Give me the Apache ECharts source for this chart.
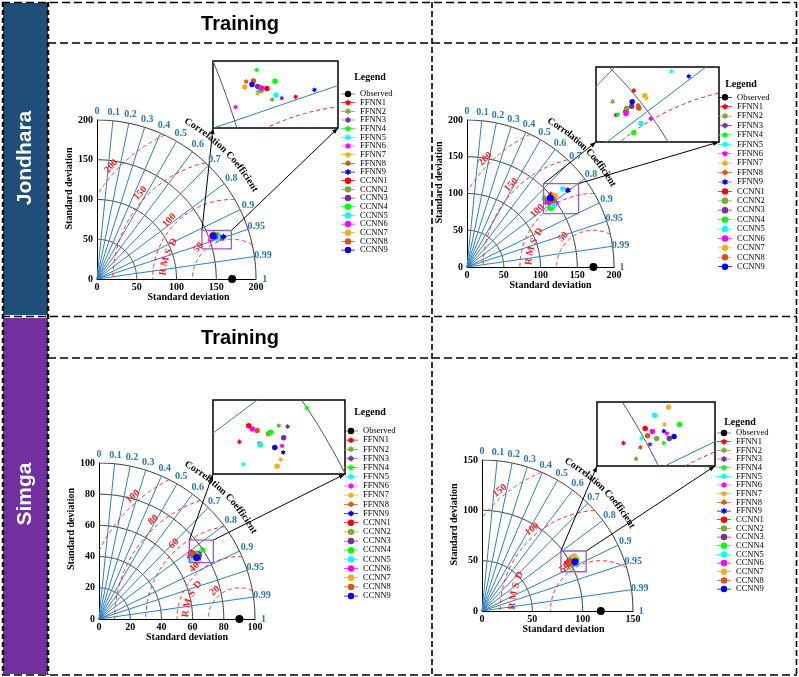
<!DOCTYPE html>
<html>
<head>
<meta charset="utf-8">
<title>Taylor diagrams – Jondhara and Simga</title>
<script src="https://cdn.jsdelivr.net/npm/echarts@6/dist/echarts.min.js"></script>
<style>
html,body{margin:0;padding:0;background:#fff;}
#chart{width:799px;height:677px;}
</style>
</head>
<body>
<div id="chart"></div>
<script>
// ======================= DATA =======================
const observedName = 'Observed';
const modelNames = ['FFNN1','FFNN2','FFNN3','FFNN4','FFNN5','FFNN6','FFNN7','FFNN8','FFNN9',
                    'CCNN1','CCNN2','CCNN3','CCNN4','CCNN5','CCNN6','CCNN7','CCNN8','CCNN9'];
const corrTicks = [0, 0.1, 0.2, 0.3, 0.4, 0.5, 0.6, 0.7, 0.8, 0.9, 0.95, 0.99, 1];

// Jondhara – Training (top left)
const jondharaTrainObserved = 170;
const jondharaTrainStd  = [163.55,158.75,160.74,157.76,156.44,151.07,156.31,154.88,167.70,
                           158.44,157.17,156.78,160.54,159.80,157.43,154.21,156.32,155.79];
const jondharaTrainCorr = [0.9489,0.9468,0.9475,0.9324,0.9416,0.9446,0.9424,0.9356,0.9487,
                           0.9417,0.9417,0.9395,0.9400,0.9456,0.9407,0.9377,0.9365,0.9378];
const jondharaTrainSdTicks = [0, 50, 100, 150, 200];
const jondharaTrainRmsdTicks = [50, 100, 150, 200];

// Jondhara – second panel (top right)
const jondharaTestObserved = 172;
const jondharaTestStd  = [150.88,141.15,138.56,139.37,168.12,149.22,152.97,148.36,172.54,
                          142.82,143.81,146.01,140.01,144.72,142.26,152.99,147.86,147.31];
const jondharaTestCorr = [0.7569,0.7460,0.7701,0.7713,0.7733,0.8129,0.7812,0.7819,0.7957,
                          0.7765,0.7732,0.7760,0.8156,0.8098,0.7796,0.7765,0.7866,0.7705];
const jondharaTestSdTicks = [0, 50, 100, 150, 200];
const jondharaTestRmsdTicks = [50, 100, 150, 200];

// Simga – Training (bottom left)
const simgaTrainObserved = 90;
const simgaTrainStd  = [70.68,75.86,76.72,79.99,69.55,74.83,73.82,72.64,74.54,
                        72.76,74.22,75.54,74.58,72.61,72.90,73.00,73.28,73.97];
const simgaTrainCorr = [0.8234,0.8318,0.8368,0.8326,0.8440,0.8486,0.8582,0.8356,0.8539,
                        0.8157,0.8327,0.8433,0.8327,0.8373,0.8203,0.8616,0.8242,0.8463];
const simgaTrainSdTicks = [0, 20, 40, 60, 80, 100];
const simgaTrainRmsdTicks = [20, 40, 60, 80, 100];

// Simga – second panel (bottom right)
const simgaTestObserved = 118;
const simgaTestStd  = [96.65,97.24,100.40,102.52,99.63,103.72,104.10,98.75,103.47,
                       100.97,101.82,103.67,106.28,103.45,101.76,106.14,100.72,104.54];
const simgaTestCorr = [0.8691,0.8854,0.8805,0.8847,0.8732,0.8793,0.8723,0.8790,0.8766,
                       0.8676,0.8790,0.8836,0.8779,0.8622,0.8726,0.8621,0.8737,0.8839];
const simgaTestSdTicks = [0, 50, 100, 150];
const simgaTestRmsdTicks = [50, 100, 150];

// ======================= STYLE / LAYOUT =======================
const FONT_SERIF = '"Liberation Serif", "Times New Roman", serif';
const FONT_SANS = '"Liberation Sans", Arial, sans-serif';
const COL_RAY = '#2f7fc4';
const COL_CORR_LABEL = '#2e75b6';
const COL_RMSD = '#ff2020';
const COL_SD_ARC = '#333333';
const COL_BOX = '#9b59c9';
const baseColors = ['#ff0000','#77ac30','#7e2f8e','#00ff00','#00ffff','#ff00ff','#edb120','#d95319','#0000ff'];
const hexagram = 'path://M10,0L12.89,5L18.66,5L15.77,10L18.66,15L12.89,15L10,20L7.11,15L1.34,15L4.23,10L1.34,5L7.11,5Z';
// legend icons: short line with marker (24 x 12 box)
const iconLineCircle = 'path://M0,5.4L24,5.4L24,6.6L0,6.6Z M17.5,6A5.5,5.5 0 1 1 6.5,6A5.5,5.5 0 1 1 17.5,6Z';
const iconLineHex = 'path://M0,5.4L24,5.4L24,6.6L0,6.6Z M12,0L13.732,3L17.196,3L15.464,6L17.196,9L13.732,9L12,12L10.268,9L6.804,9L8.536,6L6.804,3L10.268,3Z';

const panels = [
  { obs: jondharaTrainObserved, std: jondharaTrainStd, corr: jondharaTrainCorr,
    sdTicks: jondharaTrainSdTicks, rmsd: jondharaTrainRmsdTicks,
    main: {left: 97, top: 120, size: 159},
    inset: {left: 213, top: 61, width: 125, height: 67, x: [138, 164], y: [45.4, 58.8]},
    box: {x: [132, 169], y: [38, 61]},
    rmsLabelAngle: 137, rmsWord: {r: 87, mid: 161},
    xNameShift: 12, yNameShift: 11,
    legend: {left: 341, top: 89.5, step: 8.67}, legendTitle: [370, 77] },
  { obs: jondharaTestObserved, std: jondharaTestStd, corr: jondharaTestCorr,
    sdTicks: jondharaTestSdTicks, rmsd: jondharaTestRmsdTicks,
    main: {left: 467, top: 120, size: 147},
    inset: {left: 596, top: 67, width: 123, height: 75, x: [98.3, 150], y: [77.2, 108.4]},
    box: {x: [104.2, 151.8], y: [72.7, 113.5]},
    rmsLabelAngle: 135, rmsWord: {r: 88, mid: 161},
    xNameShift: 10, yNameShift: 11,
    legend: {left: 718, top: 92.8, step: 9.41}, legendTitle: [741, 84] },
  { obs: simgaTrainObserved, std: simgaTrainStd, corr: simgaTrainCorr,
    sdTicks: simgaTrainSdTicks, rmsd: simgaTrainRmsdTicks,
    main: {left: 99, top: 463, size: 156},
    inset: {left: 213, top: 400, width: 132, height: 74, x: [54.9, 71.35], y: [36.1, 45.3]},
    box: {x: [57.9, 73.3], y: [36.1, 50.6]},
    rmsLabelAngle: 131, rmsWord: {r: 34.5, mid: 157.5},
    xNameShift: 10, yNameShift: 12,
    legend: {left: 344, top: 426.5, step: 9.17}, legendTitle: [370, 412] },
  { obs: simgaTestObserved, std: simgaTestStd, corr: simgaTestCorr,
    sdTicks: simgaTestSdTicks, rmsd: simgaTestRmsdTicks,
    main: {left: 482, top: 460, size: 151},
    inset: {left: 597, top: 402, width: 118, height: 64, x: [79.6, 99.2], y: [44.0, 54.6]},
    box: {x: [78.4, 103.5], y: [39, 59.6]},
    rmsLabelAngle: 130, rmsWord: {r: 88, mid: 166.5},
    xNameShift: 6, yNameShift: 11,
    legend: {left: 717, top: 428.5, step: 8.67}, legendTitle: [740, 422] }
];

// ======================= HELPERS =======================
function arcPoints(cx, r, a0, a1, n) {
  const pts = [];
  for (let i = 0; i <= n; i++) {
    const a = a0 + (a1 - a0) * i / n;
    pts.push([cx + r * Math.cos(a), r * Math.sin(a)]);
  }
  return pts;
}
function rmsArc(o, r, R, n) {
  let a0 = 0, a1 = Math.PI;
  if (o + r > R) {
    const x = (R * R - r * r + o * o) / (2 * o);
    a0 = Math.acos(Math.max(-1, Math.min(1, (x - o) / r)));
  }
  if (o - r < 0) a1 = Math.acos(-o / r);
  if (a0 >= a1) return null;
  return arcPoints(o, r, a0, a1, n);
}
function lineSet(gi, polylines, style, z) {
  return {
    type: 'lines', coordinateSystem: 'cartesian2d', xAxisIndex: gi, yAxisIndex: gi,
    polyline: true, silent: true, clip: true, z: z || 2, animation: false,
    lineStyle: Object.assign({opacity: 1, curveness: 0}, style),
    data: polylines.map(c => ({coords: c}))
  };
}
function pointSeries(gi, name, xy, symbol, size, color, clip) {
  return {
    type: 'line', name: name, xAxisIndex: gi, yAxisIndex: gi, data: [xy],
    symbol: symbol, symbolSize: size, symbolKeepAspect: true, showSymbol: true,
    itemStyle: {color: color, borderColor: color, borderWidth: 0},
    lineStyle: {color: color, width: 1},
    emphasis: {disabled: true}, silent: true, clip: clip, z: 4, animation: false
  };
}

// ======================= BUILD OPTION =======================
const grids = [], xAxes = [], yAxes = [], series = [];
const axisTextStyle = {color: '#000', fontFamily: FONT_SERIF, fontWeight: 'bold', fontSize: 10};

panels.forEach((p) => {
  const R = p.sdTicks[p.sdTicks.length - 1];
  const step = p.sdTicks[1] - p.sdTicks[0];
  const gi = grids.length;
  p._gi = gi; p._R = R;
  grids.push({left: p.main.left, top: p.main.top, width: p.main.size, height: p.main.size, show: false});
  xAxes.push({
    gridIndex: gi, type: 'value', min: 0, max: R, interval: step,
    axisLine: {show: true, onZero: false, lineStyle: {color: '#000', width: 1}},
    axisTick: {show: false}, splitLine: {show: false},
    axisLabel: Object.assign({margin: 3, showMinLabel: true, showMaxLabel: true}, axisTextStyle),
    name: 'Standard deviation', nameLocation: 'middle', nameGap: 12,
    nameTextStyle: Object.assign({padding: [0, 0, 0, 2 * p.xNameShift]}, axisTextStyle)
  });
  yAxes.push({
    gridIndex: gi, type: 'value', min: 0, max: R, interval: step,
    axisLine: {show: true, onZero: false, lineStyle: {color: '#000', width: 1}},
    axisTick: {show: false}, splitLine: {show: false},
    axisLabel: Object.assign({margin: 4, showMinLabel: true, showMaxLabel: true}, axisTextStyle),
    name: 'Standard deviation', nameLocation: 'middle', nameGap: 17,
    nameTextStyle: Object.assign({padding: [0, 0, 0, 2 * p.yNameShift]}, axisTextStyle)
  });
  const ii = grids.length;
  p._ii = ii;
  grids.push({left: p.inset.left, top: p.inset.top, width: p.inset.width, height: p.inset.height,
              show: true, borderColor: '#000', borderWidth: 1.5, backgroundColor: '#fff'});
  xAxes.push({gridIndex: ii, type: 'value', min: p.inset.x[0], max: p.inset.x[1], show: false, splitLine: {show: false}});
  yAxes.push({gridIndex: ii, type: 'value', min: p.inset.y[0], max: p.inset.y[1], show: false, splitLine: {show: false}});

  const sdArcs = p.sdTicks.filter(v => v > 0).map(v => arcPoints(0, v, 0, Math.PI / 2, 120));
  const rays = corrTicks.filter(c => c > 0 && c < 1).map(c => [[0, 0], [R * c, R * Math.sqrt(1 - c * c)]]);
  const rms = p.rmsd.map(r => rmsArc(p.obs, r, R, 120)).filter(a => a);

  [gi, ii].forEach((g, which) => {
    series.push(lineSet(g, sdArcs, {color: which ? '#555' : COL_SD_ARC, width: 1}, 1));
    series.push(lineSet(g, rays, {color: COL_RAY, width: 1}, 2));
    series.push(lineSet(g, rms, {color: COL_RMSD, width: 1, type: [4, 3]}, 2));
    modelNames.forEach((nm, i) => {
      const s = p.std[i], c = p.corr[i];
      const xy = [s * c, s * Math.sqrt(1 - c * c)];
      series.push(pointSeries(g, nm, xy, i < 9 ? hexagram : 'circle', which ? 5.5 : 7, baseColors[i % 9], true));
    });
  });
  // zoom box
  const b = p.box;
  series.push(lineSet(gi, [[[b.x[0], b.y[0]], [b.x[1], b.y[0]], [b.x[1], b.y[1]], [b.x[0], b.y[1]], [b.x[0], b.y[0]]]],
              {color: COL_BOX, width: 1.3}, 5));
  // observed
  series.push(pointSeries(gi, observedName, [p.obs, 0], 'circle', 8, '#000', false));
});

const legendData = [{name: observedName, icon: iconLineCircle}].concat(
  modelNames.map((n, i) => ({name: n, icon: i < 9 ? iconLineHex : iconLineCircle})));
const legends = panels.map(p => ({
  data: legendData,
  orient: 'vertical', left: p.legend.left, top: p.legend.top, padding: 0,
  itemWidth: 14, itemHeight: 7, itemGap: p.legend.step - 9,
  symbolKeepAspect: true,
  selectedMode: false,
  itemStyle: {borderWidth: 0},
  textStyle: {fontFamily: FONT_SERIF, fontSize: 8.5, color: '#000', lineHeight: 8}
}));

const chart = echarts.init(document.getElementById('chart'), null, {renderer: 'canvas', width: 799, height: 677});
chart.setOption({
  animation: false,
  backgroundColor: '#fff',
  grid: grids, xAxis: xAxes, yAxis: yAxes, legend: legends, series: series
});

// ======================= ANNOTATIONS (through library scales) =======================
const mctx = document.createElement('canvas').getContext('2d');
function textW(t, font) { mctx.font = font; return mctx.measureText(t).width; }
function txt(t, x, y, rotDeg, font, fill, extra) {
  return Object.assign({
    type: 'text', x: x, y: y, rotation: (rotDeg || 0) * Math.PI / 180, silent: true, z: 50,
    style: {text: t, font: font, fill: fill, align: 'center', verticalAlign: 'middle'}
  }, extra || {});
}
const G = [];
const dashLong = [8, 4];
function hline(y, x1, x2, dash, w) {
  G.push({type: 'line', silent: true, z: 60, shape: {x1: x1, y1: y, x2: x2, y2: y},
          style: {stroke: '#000', lineWidth: w || 1.6, lineDash: dash || dashLong}});
}
function vline(x, y1, y2, dash, w) {
  G.push({type: 'line', silent: true, z: 60, shape: {x1: x, y1: y1, x2: x, y2: y2},
          style: {stroke: '#000', lineWidth: w || 1.6, lineDash: dash || dashLong}});
}
// side bars
G.push({type: 'rect', silent: true, z: 0, shape: {x: 3, y: 3, width: 45, height: 312}, style: {fill: '#1f4e79'}});
G.push({type: 'rect', silent: true, z: 0, shape: {x: 3, y: 318, width: 45, height: 356}, style: {fill: '#7030a0'}});
G.push(txt('Jondhara', 25, 158, 90, 'bold 21px ' + FONT_SANS, '#fff'));
G.push(txt('Simga', 25, 494, 90, 'bold 21px ' + FONT_SANS, '#fff'));
// frame
hline(2.5, 2, 797); hline(675, 2, 797); hline(316.5, 2, 797);
hline(43, 48, 797); hline(358, 48, 797);
vline(3, 2, 675, [5, 3], 2.5); vline(48, 2, 675, [5, 3], 2.5);
vline(432, 2, 675, [6, 3], 1.6); vline(796.5, 2, 675, [6, 3], 1.6);
// headings
G.push(txt('Training', 240, 24, 0, 'bold 20px ' + FONT_SANS, '#000'));
G.push(txt('Training', 240, 338, 0, 'bold 20px ' + FONT_SANS, '#000'));

panels.forEach((p) => {
  const gi = p._gi, R = p._R;
  const toPx = (xy) => chart.convertToPixel({gridIndex: gi}, xy);
  const O = toPx([0, 0]);
  const scale = (toPx([R, 0])[0] - O[0]) / R;
  const labFont = 'bold 10px ' + FONT_SERIF;
  // correlation tick labels
  corrTicks.forEach(c => {
    const pt = toPx([1.055 * R * c, 1.055 * R * Math.sqrt(1 - c * c)]);
    G.push(txt(String(c), pt[0], pt[1], 0, labFont, COL_CORR_LABEL));
  });
  // "Correlation Coefficient" along arc
  const word = 'Correlation Coefficient';
  const chars = word.split('');
  const ws = chars.map(ch => textW(ch, labFont));
  const tot = ws.reduce((a, w) => a + w, 0);
  const rPx = 1.14 * R * scale;
  let acc = 0;
  chars.forEach((ch, i) => {
    const f = (acc + ws[i] / 2) / tot; acc += ws[i];
    const a = 61 + (29 - 61) * f, rad = a * Math.PI / 180;
    if (ch !== ' ') G.push(txt(ch, O[0] + rPx * Math.cos(rad), O[1] - rPx * Math.sin(rad), a - 90, labFont, '#000'));
  });
  // RMSD labels
  const psi = p.rmsLabelAngle * Math.PI / 180;
  p.rmsd.forEach(r => {
    const rho = r + 0.04 * R;
    const pt = toPx([p.obs + rho * Math.cos(psi), rho * Math.sin(psi)]);
    G.push(txt(String(r), pt[0], pt[1], p.rmsLabelAngle - 90, labFont, COL_RMSD));
  });
  // "RMSD" word
  const obsPx = toPx([p.obs, 0]);
  const rw = p.rmsWord.r * scale;
  const dA = (10.5 / rw) * 180 / Math.PI;
  'RMSD'.split('').forEach((ch, j) => {
    const a = p.rmsWord.mid + (1.5 - j) * dA, rad = a * Math.PI / 180;
    G.push(txt(ch, obsPx[0] + rw * Math.cos(rad), obsPx[1] - rw * Math.sin(rad), a - 90, labFont, COL_RMSD));
  });
  // connectors from zoom box to inset
  const b = p.box;
  const tl = toPx([b.x[0], b.y[1]]), tr = toPx([b.x[1], b.y[1]]);
  const ibl = [p.inset.left, p.inset.top + p.inset.height], ibr = [p.inset.left + p.inset.width, p.inset.top + p.inset.height];
  [[tl, ibl], [tr, ibr]].forEach(([a, e]) => {
    G.push({type: 'line', silent: true, z: 3, shape: {x1: a[0], y1: a[1], x2: e[0], y2: e[1]}, style: {stroke: '#000', lineWidth: 1}});
    const dx = e[0] - a[0], dy = e[1] - a[1], L = Math.hypot(dx, dy), ux = dx / L, uy = dy / L;
    G.push({type: 'polygon', silent: true, z: 3, shape: {points: [
      [e[0], e[1]], [e[0] - 6 * ux - 2.2 * uy, e[1] - 6 * uy + 2.2 * ux], [e[0] - 6 * ux + 2.2 * uy, e[1] - 6 * uy - 2.2 * ux]]},
      style: {fill: '#000'}});
  });
  // legend heading
  G.push(txt('Legend', p.legendTitle[0], p.legendTitle[1], 0, 'bold 10px ' + FONT_SERIF, '#000'));
});

chart.setOption({graphic: G});
</script>
</body>
</html>
